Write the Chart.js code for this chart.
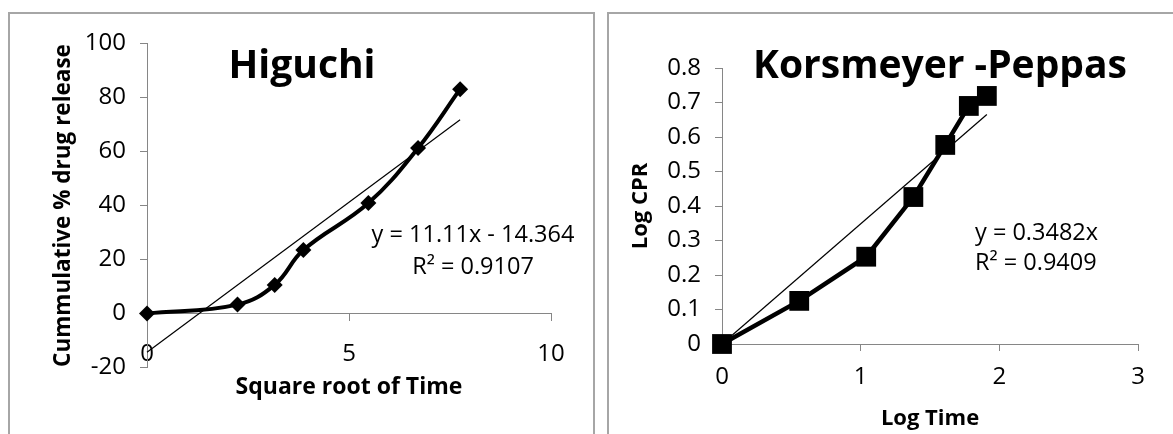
<!DOCTYPE html>
<html lang="en">
<head>
    <meta charset="UTF-8">
    <meta name="viewport" content="width=device-width, initial-scale=1.0">
    <title>Higuchi and Korsmeyer-Peppas release models</title>
    <script src="https://cdn.jsdelivr.net/npm/chart.js"></script>
    <style>
        body {
            margin: 0;
            width: 1173px;
            height: 434px;
            overflow: hidden;
            position: relative;
            background: #fff;
            font-family: 'Open Sans', sans-serif;
            color: #000;
        }

        /* grey frames round each plot, open at the bottom */
        .panel {
            position: absolute;
            top: 12px;
            height: 520px;
            border: 2px solid #a6a6a6;
            box-sizing: border-box;
        }
        #panel-left { left: 8px; width: 587px; }
        #panel-right { left: 607px; width: 640px; }

        canvas { position: absolute; top: 0; }
        #higuchi { left: 0; }
        #peppas { left: 600px; }

        .chart-title {
            position: absolute;
            top: 43px;
            font-size: 39px;
            line-height: 39px;
            font-weight: bold;
            white-space: nowrap;
            transform: translateX(-50%);
        }

        .equation {
            position: absolute;
            font-size: 23.5px;
            white-space: nowrap;
        }
    </style>
</head>
<body>
    <div class="panel" id="panel-left"></div>
    <div class="panel" id="panel-right"></div>

    <canvas id="higuchi" width="600" height="434"></canvas>
    <canvas id="peppas" width="573" height="434"></canvas>

    <div class="chart-title" style="left: 302px;">Higuchi</div>
    <div class="chart-title" style="left: 940px;">Korsmeyer -Peppas</div>

    <div class="equation" style="left: 353px; top: 217px; width: 240px; text-align: center; line-height: 32px;">
        y = 11.11x - 14.364<br>R² = 0.9107
    </div>
    <div class="equation" style="left: 975px; top: 216px; line-height: 30px;">
        y = 0.3482x<br>R² = 0.9409
    </div>

    <script>
        // Higuchi: square root of time vs cumulative % drug release
        const higuchiX = [0, 2.24, 3.16, 3.87, 5.48, 6.71, 7.75];
        const higuchiY = [0, 3.3, 10.6, 23.5, 40.9, 61.3, 83.1];
        const higuchiTrendX = [0, 7.75];
        const higuchiTrendY = [-14.36, 71.74];
        const higuchiXTicks = { min: 0, max: 10, step: 5 };
        const higuchiYTicks = { min: -20, max: 100, step: 20 };

        // Korsmeyer-Peppas: log time vs log CPR
        const peppasX = [0, 0.557, 1.04, 1.38, 1.61, 1.78, 1.91];
        const peppasY = [0, 0.125, 0.253, 0.426, 0.577, 0.69, 0.719];
        const peppasTrendX = [0, 1.91];
        const peppasTrendY = [0, 0.665];
        const peppasXTicks = { min: 0, max: 3, step: 1 };
        const peppasYTicks = { min: 0, max: 0.8, step: 0.1 };

        const FONT = "'Open Sans', sans-serif";
        const AXIS_GREY = '#868686';

        function points(xs, ys) {
            return xs.map((x, i) => ({ x: x, y: ys[i] }));
        }

        function axis(range, tickPad, titleText, titleSize, titlePad, fit) {
            return {
                type: 'linear',
                min: range.min,
                max: range.max,
                ticks: { stepSize: range.step, padding: tickPad, color: '#000', font: { family: FONT, size: 24 } },
                grid: { drawOnChartArea: false, tickLength: 7, tickColor: AXIS_GREY },
                border: { color: AXIS_GREY, width: 1 },
                title: {
                    display: true,
                    text: titleText,
                    color: '#000',
                    font: { family: FONT, size: titleSize, weight: 'bold' },
                    padding: titlePad
                },
                afterFit: fit
            };
        }

        // Higuchi chart, x axis crosses at y = 0
        const hx = axis(higuchiXTicks, 19, 'Square root of Time', 23, { top: 0, bottom: 2 }, s => { s.height = 90; });
        hx.position = { y: 0 };
        new Chart(document.getElementById('higuchi'), {
            type: 'scatter',
            data: {
                datasets: [
                    {
                        label: 'Higuchi',
                        data: points(higuchiX, higuchiY),
                        showLine: true,
                        tension: 0.4,
                        borderColor: '#000',
                        borderWidth: 4,
                        pointStyle: 'rectRot',
                        pointRadius: 8,
                        pointBackgroundColor: '#000',
                        pointBorderWidth: 0,
                        clip: false
                    },
                    {
                        label: 'Linear',
                        data: points(higuchiTrendX, higuchiTrendY),
                        showLine: true,
                        borderColor: '#000',
                        borderWidth: 1.2,
                        pointRadius: 0,
                        clip: false
                    }
                ]
            },
            options: {
                responsive: false,
                animation: false,
                layout: { padding: { top: 43.5, right: 49, bottom: 66.5, left: 0 } },
                plugins: { legend: { display: false }, tooltip: { enabled: false } },
                scales: {
                    x: hx,
                    y: axis(higuchiYTicks, 14, 'Cummulative % drug release', 22.5, { top: 50, bottom: 0 }, s => { s.width = 147; })
                }
            }
        });

        // Korsmeyer-Peppas chart
        new Chart(document.getElementById('peppas'), {
            type: 'scatter',
            data: {
                datasets: [
                    {
                        label: 'Korsmeyer-Peppas',
                        data: points(peppasX, peppasY),
                        showLine: true,
                        borderColor: '#000',
                        borderWidth: 4.5,
                        pointStyle: 'rect',
                        pointRadius: 14,
                        pointBackgroundColor: '#000',
                        pointBorderWidth: 0,
                        clip: false
                    },
                    {
                        label: 'Linear',
                        data: points(peppasTrendX, peppasTrendY),
                        showLine: true,
                        borderColor: '#000',
                        borderWidth: 1.2,
                        pointRadius: 0,
                        clip: false
                    }
                ]
            },
            options: {
                responsive: false,
                animation: false,
                layout: { padding: { top: 68, right: 35, bottom: 0, left: 0 } },
                plugins: { legend: { display: false }, tooltip: { enabled: false } },
                scales: {
                    x: axis(peppasXTicks, 12, 'Log Time', 22, { top: 0, bottom: 2 }, s => { s.height = 90; }),
                    y: axis(peppasYTicks, 14, 'Log CPR', 22, { top: 28, bottom: 0 }, s => { s.width = 122; })
                }
            }
        });
    </script>
</body>
</html>
